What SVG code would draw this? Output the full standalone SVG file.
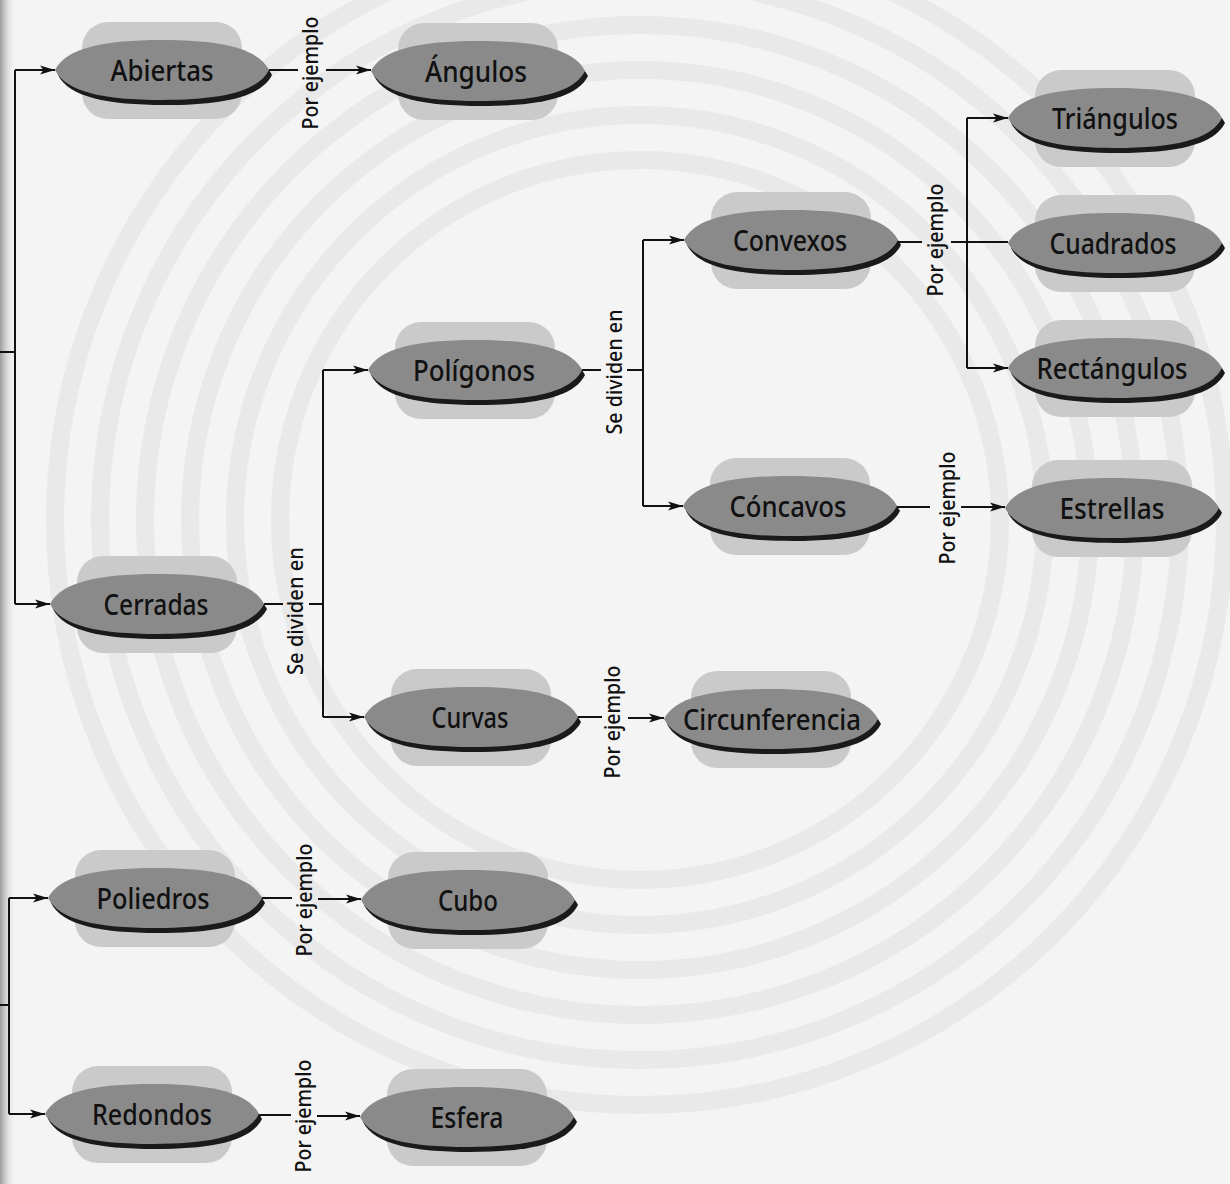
<svg xmlns="http://www.w3.org/2000/svg" xmlns:xlink="http://www.w3.org/1999/xlink" width="1230" height="1184" viewBox="0 0 1230 1184">
  <style>
    .lbl { font-family: "Noto Sans", "Open Sans", "Liberation Sans", sans-serif; font-size: 29px; font-weight: 500; fill: #111; text-anchor: middle; }
    .rel { font-family: "Noto Sans", "Open Sans", "Liberation Sans", sans-serif; font-size: 21px; font-weight: 500; fill: #111; text-anchor: middle; }
    .ln { fill: none; stroke: #111; stroke-width: 2; }
    .ar { fill: none; stroke: #111; stroke-width: 2; marker-end: url(#arr); }
    .back { fill: #cacaca; }
    .body { fill: #8a8a8a; }
    .shadow { fill: #1a1a1a; }
    .ring { fill: none; stroke: #dcdcdc; stroke-width: 18; opacity: 0.45; }
  </style>
  <defs>
    <marker id="arr" markerWidth="16" markerHeight="11" refX="15" refY="5.5" orient="auto" markerUnits="userSpaceOnUse">
      <path d="M0,1 L15,5.5 L0,10 L3.5,5.5 Z" fill="#111"/>
    </marker>
    <rect id="backshape" x="-80" y="-48" width="160" height="97" rx="26" ry="26"/>
    <path id="lens" d="M-107,0 C-96,-22 -58,-30 0,-30 C58,-30 96,-22 107,0 C96,22 58,30 0,30 C-58,30 -96,22 -107,0 Z"/>
    <linearGradient id="gutter" x1="0" y1="0" x2="1" y2="0">
      <stop offset="0" stop-color="#9a9a9a"/>
      <stop offset="1" stop-color="#f4f4f4" stop-opacity="0"/>
    </linearGradient>
  </defs>

  <g id="background">
    <rect x="0" y="0" width="1230" height="1184" fill="#f4f4f4"/>
    <circle class="ring" cx="640" cy="520" r="360"/>
    <circle class="ring" cx="640" cy="520" r="405"/>
    <circle class="ring" cx="640" cy="520" r="450"/>
    <circle class="ring" cx="640" cy="520" r="495"/>
    <circle class="ring" cx="640" cy="520" r="540"/>
    <circle class="ring" cx="640" cy="520" r="585"/>
    <rect x="0" y="0" width="16" height="1184" fill="url(#gutter)"/>
  </g>

  <g id="nodes">
    <g id="n-abiertas" transform="translate(162,70)">
      <use xlink:href="#backshape" class="back"/>
      <use xlink:href="#lens" class="shadow" x="3" y="5"/>
      <use xlink:href="#lens" class="body"/>
      <text class="lbl" x="0" y="11" textLength="103" lengthAdjust="spacingAndGlyphs">Abiertas</text>
    </g>
    <g id="n-angulos" transform="translate(478,71)">
      <use xlink:href="#backshape" class="back"/>
      <use xlink:href="#lens" class="shadow" x="3" y="5"/>
      <use xlink:href="#lens" class="body"/>
      <text class="lbl" x="-2" y="11" textLength="102" lengthAdjust="spacingAndGlyphs">Ángulos</text>
    </g>
    <g id="n-poligonos" transform="translate(475,370)">
      <use xlink:href="#backshape" class="back"/>
      <use xlink:href="#lens" class="shadow" x="3" y="5"/>
      <use xlink:href="#lens" class="body"/>
      <text class="lbl" x="-1" y="11" textLength="122" lengthAdjust="spacingAndGlyphs">Polígonos</text>
    </g>
    <g id="n-convexos" transform="translate(791,240)">
      <use xlink:href="#backshape" class="back"/>
      <use xlink:href="#lens" class="shadow" x="3" y="5"/>
      <use xlink:href="#lens" class="body"/>
      <text class="lbl" x="-1" y="11" textLength="114" lengthAdjust="spacingAndGlyphs">Convexos</text>
    </g>
    <g id="n-concavos" transform="translate(790,506)">
      <use xlink:href="#backshape" class="back"/>
      <use xlink:href="#lens" class="shadow" x="3" y="5"/>
      <use xlink:href="#lens" class="body"/>
      <text class="lbl" x="-2" y="11" textLength="117" lengthAdjust="spacingAndGlyphs">Cóncavos</text>
    </g>
    <g id="n-triangulos" transform="translate(1115,118)">
      <use xlink:href="#backshape" class="back"/>
      <use xlink:href="#lens" class="shadow" x="3" y="5"/>
      <use xlink:href="#lens" class="body"/>
      <text class="lbl" x="0" y="11" textLength="126" lengthAdjust="spacingAndGlyphs">Triángulos</text>
    </g>
    <g id="n-cuadrados" transform="translate(1115,243)">
      <use xlink:href="#backshape" class="back"/>
      <use xlink:href="#lens" class="shadow" x="3" y="5"/>
      <use xlink:href="#lens" class="body"/>
      <text class="lbl" x="-2" y="11" textLength="127" lengthAdjust="spacingAndGlyphs">Cuadrados</text>
    </g>
    <g id="n-rectangulos" transform="translate(1115,368)">
      <use xlink:href="#backshape" class="back"/>
      <use xlink:href="#lens" class="shadow" x="3" y="5"/>
      <use xlink:href="#lens" class="body"/>
      <text class="lbl" x="-3" y="11" textLength="151" lengthAdjust="spacingAndGlyphs">Rectángulos</text>
    </g>
    <g id="n-estrellas" transform="translate(1112,508)">
      <use xlink:href="#backshape" class="back"/>
      <use xlink:href="#lens" class="shadow" x="3" y="5"/>
      <use xlink:href="#lens" class="body"/>
      <text class="lbl" x="0" y="11" textLength="105" lengthAdjust="spacingAndGlyphs">Estrellas</text>
    </g>
    <g id="n-cerradas" transform="translate(157,604)">
      <use xlink:href="#backshape" class="back"/>
      <use xlink:href="#lens" class="shadow" x="3" y="5"/>
      <use xlink:href="#lens" class="body"/>
      <text class="lbl" x="-1" y="11" textLength="105" lengthAdjust="spacingAndGlyphs">Cerradas</text>
    </g>
    <g id="n-curvas" transform="translate(471,717)">
      <use xlink:href="#backshape" class="back"/>
      <use xlink:href="#lens" class="shadow" x="3" y="5"/>
      <use xlink:href="#lens" class="body"/>
      <text class="lbl" x="-1" y="11" textLength="77" lengthAdjust="spacingAndGlyphs">Curvas</text>
    </g>
    <g id="n-circunferencia" transform="translate(771,719)">
      <use xlink:href="#backshape" class="back"/>
      <use xlink:href="#lens" class="shadow" x="3" y="5"/>
      <use xlink:href="#lens" class="body"/>
      <text class="lbl" x="1" y="11" textLength="178" lengthAdjust="spacingAndGlyphs">Circunferencia</text>
    </g>
    <g id="n-poliedros" transform="translate(155,898)">
      <use xlink:href="#backshape" class="back"/>
      <use xlink:href="#lens" class="shadow" x="3" y="5"/>
      <use xlink:href="#lens" class="body"/>
      <text class="lbl" x="-2" y="11" textLength="113" lengthAdjust="spacingAndGlyphs">Poliedros</text>
    </g>
    <g id="n-cubo" transform="translate(468,900)">
      <use xlink:href="#backshape" class="back"/>
      <use xlink:href="#lens" class="shadow" x="3" y="5"/>
      <use xlink:href="#lens" class="body"/>
      <text class="lbl" x="0" y="11" textLength="60" lengthAdjust="spacingAndGlyphs">Cubo</text>
    </g>
    <g id="n-redondos" transform="translate(152,1114)">
      <use xlink:href="#backshape" class="back"/>
      <use xlink:href="#lens" class="shadow" x="3" y="5"/>
      <use xlink:href="#lens" class="body"/>
      <text class="lbl" x="0" y="11" textLength="120" lengthAdjust="spacingAndGlyphs">Redondos</text>
    </g>
    <g id="n-esfera" transform="translate(467,1117)">
      <use xlink:href="#backshape" class="back"/>
      <use xlink:href="#lens" class="shadow" x="3" y="5"/>
      <use xlink:href="#lens" class="body"/>
      <text class="lbl" x="0" y="11" textLength="73" lengthAdjust="spacingAndGlyphs">Esfera</text>
    </g>
  </g>

  <g id="connectors">
    <!-- left bracket (upper) -->
    <path class="ln" d="M0,352 H15 M15,70 V604"/>
    <path class="ar" d="M15,70 H55"/>
    <path class="ar" d="M15,604 H50"/>
    <!-- left bracket (lower) -->
    <path class="ln" d="M0,1005 H9 M9,898 V1114"/>
    <path class="ar" d="M9,898 H48"/>
    <path class="ar" d="M9,1114 H45"/>
    <!-- Abiertas -> Ángulos -->
    <path class="ln" d="M269,70 H298"/>
    <path class="ar" d="M326,70 H371"/>
    <text class="rel" transform="translate(318,73) rotate(-90)" textLength="113" lengthAdjust="spacingAndGlyphs">Por ejemplo</text>
    <!-- Polígonos -> Convexos / Cóncavos -->
    <path class="ln" d="M582,370 H601 M627,370 H643 M643,240 V506"/>
    <path class="ar" d="M643,240 H684"/>
    <path class="ar" d="M643,506 H683"/>
    <text class="rel" transform="translate(622,372) rotate(-90)" textLength="125" lengthAdjust="spacingAndGlyphs">Se dividen en</text>
    <!-- Cerradas -> Polígonos / Curvas -->
    <path class="ln" d="M264,604 H283 M309,604 H323 M323,370 V717"/>
    <path class="ar" d="M323,370 H368"/>
    <path class="ar" d="M323,717 H364"/>
    <text class="rel" transform="translate(303,611) rotate(-90)" textLength="128" lengthAdjust="spacingAndGlyphs">Se dividen en</text>
    <!-- Convexos -> Triángulos / Cuadrados / Rectángulos -->
    <path class="ln" d="M898,242 H922 M951,242 H1008 M967,118 V368"/>
    <path class="ar" d="M967,118 H1008"/>
    <path class="ar" d="M967,368 H1008"/>
    <text class="rel" transform="translate(943,240) rotate(-90)" textLength="113" lengthAdjust="spacingAndGlyphs">Por ejemplo</text>
    <!-- Cóncavos -> Estrellas -->
    <path class="ln" d="M897,507 H930"/>
    <path class="ar" d="M961,507 H1005"/>
    <text class="rel" transform="translate(955,508) rotate(-90)" textLength="113" lengthAdjust="spacingAndGlyphs">Por ejemplo</text>
    <!-- Curvas -> Circunferencia -->
    <path class="ln" d="M578,717 H602"/>
    <path class="ar" d="M628,718 H664"/>
    <text class="rel" transform="translate(620,722) rotate(-90)" textLength="113" lengthAdjust="spacingAndGlyphs">Por ejemplo</text>
    <!-- Poliedros -> Cubo -->
    <path class="ln" d="M262,898 H292"/>
    <path class="ar" d="M318,899 H361"/>
    <text class="rel" transform="translate(312,900) rotate(-90)" textLength="113" lengthAdjust="spacingAndGlyphs">Por ejemplo</text>
    <!-- Redondos -> Esfera -->
    <path class="ln" d="M259,1115 H291"/>
    <path class="ar" d="M317,1116 H360"/>
    <text class="rel" transform="translate(311,1116) rotate(-90)" textLength="113" lengthAdjust="spacingAndGlyphs">Por ejemplo</text>
  </g>
</svg>
